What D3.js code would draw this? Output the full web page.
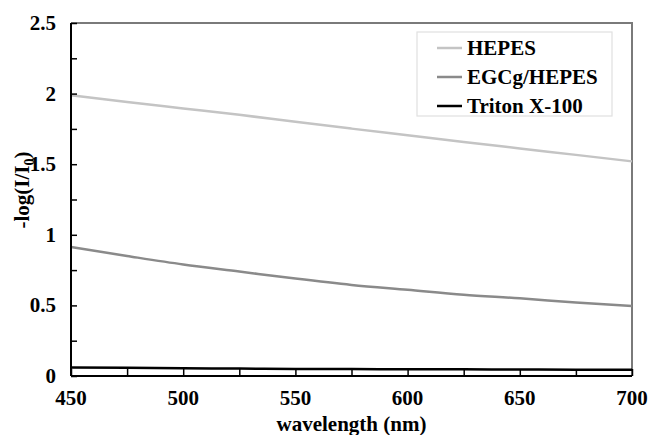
<!DOCTYPE html>
<html>
<head>
<meta charset="utf-8">
<script src="https://cdn.jsdelivr.net/npm/d3@7"></script>
<style>
  body { margin: 0; background: #fff; }
</style>
</head>
<body>
<div id="chart"></div>
<script>
// wavelength grid (nm) and the three absorbance curves
const wavelengths = [450, 475, 500, 525, 550, 575, 600, 625, 650, 675, 700];
const hepes  = [1.988, 1.94, 1.895, 1.85, 1.80, 1.752, 1.705, 1.658, 1.612, 1.566, 1.52];
const egcg   = [0.913, 0.85, 0.79, 0.74, 0.69, 0.645, 0.61, 0.575, 0.55, 0.52, 0.495];
const triton = [0.06, 0.058, 0.055, 0.053, 0.05, 0.049, 0.048, 0.047, 0.046, 0.045, 0.045];

const seriesNames = ["HEPES", "EGCg/HEPES", "Triton X-100"];
const seriesColors = ["#c4c4c4", "#8a8a8a", "#000000"];
const xTicks = [450, 500, 550, 600, 650, 700];
const yTicks = [0, 0.5, 1, 1.5, 2, 2.5];

const width = 648, height = 435;
const margin = {left: 71, right: 16, top: 23, bottom: 59};
const font = "'Liberation Serif', 'Times New Roman', Times, 'DejaVu Serif', serif";

let svg = d3.select("#chart").append("svg")
  .attr("width", width)
  .attr("height", height)
  .attr("font-family", font)
  .attr("font-weight", "bold");

let x = d3.scaleLinear().domain([450, 700]).range([margin.left, width - margin.right]);
let y = d3.scaleLinear().domain([0, 2.5]).range([height - margin.bottom, margin.top]);

// top and right frame (gray)
svg.append("path")
  .attr("d", "M" + x(450) + "," + y(2.5) + "H" + x(700) + "V" + y(0))
  .attr("fill", "none")
  .attr("stroke", "#7a7a7a")
  .attr("stroke-width", 2);

// curves
let data = [hepes, egcg, triton];
let line = d3.line()
  .x((d, i) => x(wavelengths[i]))
  .y(d => y(d))
  .curve(d3.curveMonotoneX);

svg.selectAll(".series")
  .data(data)
  .enter().append("path")
  .attr("class", "series")
  .attr("d", d => line(d))
  .attr("fill", "none")
  .attr("stroke", (d, i) => seriesColors[i])
  .attr("stroke-width", 2.5);

// y axis: inward ticks every 0.25, labels every 0.5
let yAxis = svg.append("g")
  .attr("transform", "translate(" + x(450) + ",0)")
  .call(d3.axisRight(y).tickValues(d3.range(0, 2.51, 0.25)).tickSize(6).tickFormat(""));
yAxis.select(".domain").attr("stroke-width", 2).attr("d", "M0," + y(0) + "V" + y(2.5));
yAxis.selectAll(".tick line").attr("stroke-width", 1.5);

svg.selectAll(".ylab")
  .data(yTicks)
  .enter().append("text")
  .attr("class", "ylab")
  .attr("x", 56)
  .attr("y", d => y(d) + 7)
  .attr("text-anchor", "end")
  .attr("font-size", 21)
  .text(d => d);

// x axis: inward ticks every 25
let xAxis = svg.append("g")
  .attr("transform", "translate(0," + y(0) + ")")
  .call(d3.axisTop(x).tickValues(d3.range(450, 701, 25)).tickSize(7).tickFormat(""));
xAxis.select(".domain").attr("stroke-width", 2).attr("d", "M" + x(450) + ",0H" + x(700));
xAxis.selectAll(".tick line").attr("stroke-width", 1.5);

svg.selectAll(".xlab")
  .data(xTicks)
  .enter().append("text")
  .attr("class", "xlab")
  .attr("x", d => x(d))
  .attr("y", 405)
  .attr("text-anchor", "middle")
  .attr("font-size", 21)
  .text(d => d);

// axis titles
svg.append("text")
  .attr("x", x(575))
  .attr("y", 431)
  .attr("text-anchor", "middle")
  .attr("font-size", 21)
  .text("wavelength (nm)");

let yt = svg.append("text")
  .attr("transform", "translate(29,190) rotate(-90)")
  .attr("text-anchor", "middle")
  .attr("font-size", 21);
yt.append("tspan").text("-log(I/I");
yt.append("tspan").attr("font-size", 14).attr("dy", 5).text("0");
yt.append("tspan").attr("dy", -5).text(")");

// legend
let legend = svg.append("g");
legend.append("rect")
  .attr("x", 417).attr("y", 32)
  .attr("width", 195).attr("height", 84)
  .attr("fill", "#fff")
  .attr("stroke", "#e0e0e0")
  .attr("stroke-width", 1.2);

let item = legend.selectAll(".item")
  .data(seriesNames)
  .enter().append("g")
  .attr("class", "item")
  .attr("transform", (d, i) => "translate(0," + (48 + i * 29) + ")");

item.append("line")
  .attr("x1", 437).attr("x2", 462)
  .attr("stroke", (d, i) => seriesColors[i])
  .attr("stroke-width", 2.5);

item.append("text")
  .attr("x", 467)
  .attr("y", 7)
  .attr("font-size", 21)
  .text(d => d);
</script>
</body>
</html>
